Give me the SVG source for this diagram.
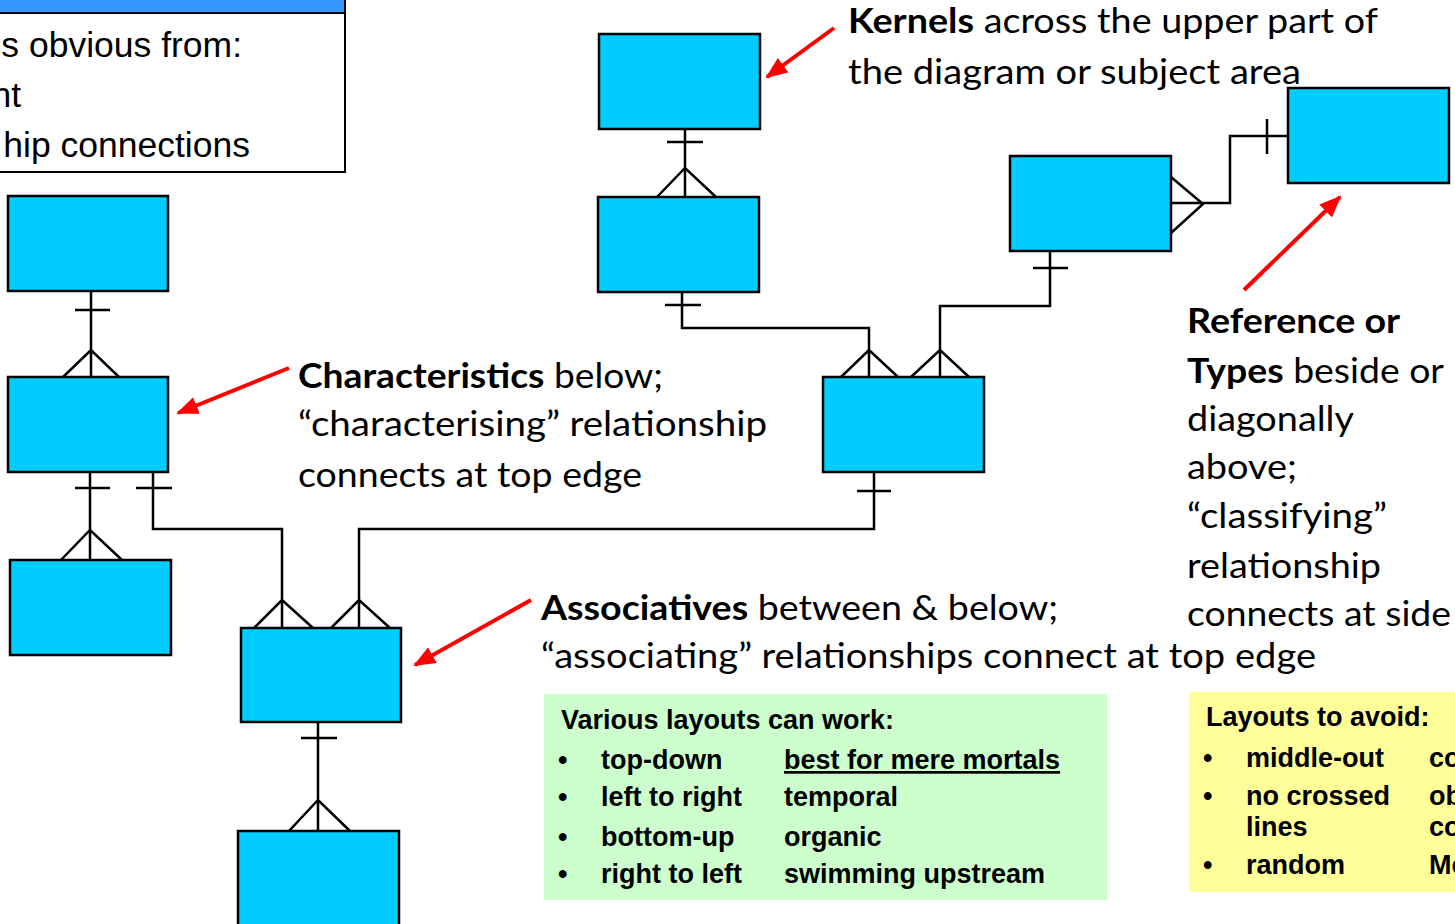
<svg xmlns="http://www.w3.org/2000/svg" width="1455" height="924" viewBox="0 0 1455 924">
<defs>
<style>
.ent{fill:#00CCFF;stroke:#000;stroke-width:2.5}
.cn{fill:none;stroke:#000;stroke-width:2.5}
.ra{fill:none;stroke:#FF0000;stroke-width:4}
.cal{font-family:Lato,"Open Sans",sans-serif;font-size:34px;fill:#000}
.b{font-weight:bold}
.ar{font-family:"Liberation Sans",Arial,sans-serif;font-weight:bold;font-size:27px;fill:#000}
.arn{font-family:"Liberation Sans",Arial,sans-serif;font-size:35.5px;fill:#000}
</style>
<marker id="ah" markerWidth="22" markerHeight="18" refX="20" refY="9" orient="auto" markerUnits="userSpaceOnUse">
<path d="M0,0 L22,9 L0,18 Z" fill="#FF0000"/>
</marker>
</defs>

<g id="legend-box">
<rect x="-10" y="-5" width="355" height="18" fill="#3399FF" stroke="#000" stroke-width="2"/>
<rect x="-10" y="13" width="355" height="159" fill="#fff" stroke="#000" stroke-width="2"/>
<text class="arn" x="242" y="57" text-anchor="end">s obvious from:</text>
<text class="arn" x="21" y="107" text-anchor="end">nt</text>
<text class="arn" x="250" y="157" text-anchor="end">hip connections</text>
</g>

<g id="connectors">
<path class="cn" d="M91,291 V377 M75,310 H110 M62,378 L91,350 L120,378"/>
<path class="cn" d="M90,472 V560 M75,488 H110 M61,560 L90,530 L122,560"/>
<path class="cn" d="M153,472 V529 H282 V628 M136,488 H172 M254,628 L282,600 L313,628"/>
<path class="cn" d="M874,472 V529 H359 V628 M857,491 H891 M331,628 L359,600 L390,628"/>
<path class="cn" d="M318,722 V831 M301,738 H337 M289,831 L318,800 L350,831"/>
<path class="cn" d="M685,129 V197 M667,142 H703 M657,197 L685,168 L716,197"/>
<path class="cn" d="M682,292 V328 H869 V377 M665,305 H701 M841,377 L869,350 L898,377"/>
<path class="cn" d="M1050,251 V306 H940 V377 M1033,268 H1068 M911,377 L940,350 L969,377"/>
<path class="cn" d="M1171,203 H1230 V136 H1288 M1267,119 V154 M1171,177 L1203,204 L1171,233"/>
</g>

<g id="node-A"><rect class="ent" x="8" y="196" width="160" height="95"/></g>
<g id="node-B"><rect class="ent" x="8" y="377" width="160" height="95"/></g>
<g id="node-C"><rect class="ent" x="10" y="560" width="161" height="95"/></g>
<g id="node-D"><rect class="ent" x="241" y="628" width="160" height="94"/></g>
<g id="node-E"><rect class="ent" x="238" y="831" width="161" height="100"/></g>
<g id="node-F"><rect class="ent" x="599" y="34" width="161" height="95"/></g>
<g id="node-G"><rect class="ent" x="598" y="197" width="161" height="95"/></g>
<g id="node-H"><rect class="ent" x="823" y="377" width="161" height="95"/></g>
<g id="node-I"><rect class="ent" x="1010" y="156" width="161" height="95"/></g>
<g id="node-J"><rect class="ent" x="1288" y="88" width="161" height="95"/></g>

<g id="annotation-arrows">
<line class="ra" x1="834" y1="28" x2="767" y2="77" marker-end="url(#ah)"/>
<line class="ra" x1="289" y1="368" x2="178" y2="413" marker-end="url(#ah)"/>
<line class="ra" x1="531" y1="600" x2="415" y2="665" marker-end="url(#ah)"/>
<line class="ra" x1="1244" y1="290" x2="1340" y2="197" marker-end="url(#ah)"/>
</g>

<g id="label-kernels">
<text class="cal" x="848" y="33" textLength="530" lengthAdjust="spacingAndGlyphs"><tspan class="b">Kernels</tspan> across the upper part of</text>
<text class="cal" x="848" y="84" textLength="453" lengthAdjust="spacingAndGlyphs">the diagram or subject area</text>
</g>

<g id="label-characteristics">
<text class="cal" x="298" y="388" textLength="365" lengthAdjust="spacingAndGlyphs"><tspan class="b">Characteristics</tspan> below;</text>
<text class="cal" x="298" y="436" textLength="469" lengthAdjust="spacingAndGlyphs">“characterising” relationship</text>
<text class="cal" x="298" y="487" textLength="344" lengthAdjust="spacingAndGlyphs">connects at top edge</text>
</g>

<g id="label-associatives">
<text class="cal" x="541" y="620" textLength="517" lengthAdjust="spacingAndGlyphs"><tspan class="b">Associatives</tspan> between &amp; below;</text>
<text class="cal" x="541" y="668" textLength="775" lengthAdjust="spacingAndGlyphs">“associating” relationships connect at top edge</text>
</g>

<g id="label-reference">
<text class="cal b" x="1187" y="333" textLength="213" lengthAdjust="spacingAndGlyphs">Reference or</text>
<text class="cal" x="1187" y="383" textLength="257" lengthAdjust="spacingAndGlyphs"><tspan class="b">Types</tspan> beside or</text>
<text class="cal" x="1187" y="431" textLength="167" lengthAdjust="spacingAndGlyphs">diagonally</text>
<text class="cal" x="1187" y="479" textLength="110" lengthAdjust="spacingAndGlyphs">above;</text>
<text class="cal" x="1187" y="528" textLength="200" lengthAdjust="spacingAndGlyphs">“classifying”</text>
<text class="cal" x="1187" y="578" textLength="194" lengthAdjust="spacingAndGlyphs">relationship</text>
<text class="cal" x="1187" y="626" textLength="264" lengthAdjust="spacingAndGlyphs">connects at side</text>
</g>

<g id="box-layouts">
<rect x="544" y="694" width="563" height="206" fill="#CCFFCC"/>
<text class="ar" x="561" y="729">Various layouts can work:</text>
<text class="ar" x="558" y="769">•</text><text class="ar" x="601" y="769">top-down</text><text class="ar" x="784" y="769" text-decoration="underline">best for mere mortals</text>
<text class="ar" x="558" y="806">•</text><text class="ar" x="601" y="806">left to right</text><text class="ar" x="784" y="806">temporal</text>
<text class="ar" x="558" y="846">•</text><text class="ar" x="601" y="846">bottom-up</text><text class="ar" x="784" y="846">organic</text>
<text class="ar" x="558" y="883">•</text><text class="ar" x="601" y="883">right to left</text><text class="ar" x="784" y="883">swimming upstream</text>
</g>

<g id="box-avoid">
<rect x="1189" y="692" width="280" height="200" fill="#FFFF99"/>
<text class="ar" x="1206" y="726">Layouts to avoid:</text>
<text class="ar" x="1203" y="767">•</text><text class="ar" x="1246" y="767">middle-out</text><text class="ar" x="1429" y="767">co</text>
<text class="ar" x="1203" y="805">•</text><text class="ar" x="1246" y="805">no crossed</text><text class="ar" x="1429" y="805">ob</text>
<text class="ar" x="1246" y="836">lines</text><text class="ar" x="1429" y="836">co</text>
<text class="ar" x="1203" y="874">•</text><text class="ar" x="1246" y="874">random</text><text class="ar" x="1429" y="874">Mo</text>
</g>
</svg>
